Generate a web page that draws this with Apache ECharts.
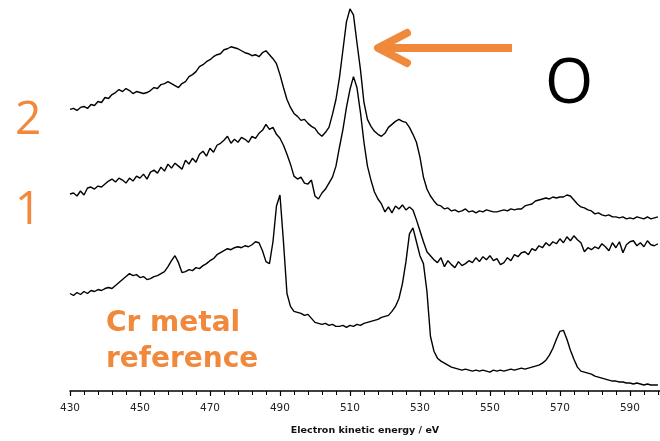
<!DOCTYPE html>
<html>
<head>
<meta charset="utf-8">
<script src="https://cdn.jsdelivr.net/npm/echarts@6/dist/echarts.min.js"></script>
<style>
  html, body { margin: 0; padding: 0; background: #fff; }
  #chart { width: 660px; height: 441px; }
</style>
</head>
<body>
<div id="chart"></div>
<script>
// energy sampling: 430 eV upward in 1 eV steps
const energiaInicial = 430;
const passo = 1;

// oxidised state 2 (top trace)
const estado2 = [
  283, 284, 282, 285, 286, 284, 288, 287, 291, 290,
  295, 294, 298, 300, 303, 301, 304, 302, 299, 301,
  300, 299, 300, 302, 305, 304, 308, 309, 311, 309,
  307, 305, 309, 311, 316, 318, 321, 326, 328, 331,
  333, 336, 338, 339, 343, 344, 346, 345, 344, 342,
  340, 339, 337, 338, 336, 340, 342, 338, 334, 329,
  318, 305, 293, 285, 279, 276, 272, 273, 269, 266,
  264, 259, 256, 260, 265, 278, 293, 315, 343, 371,
  384, 378, 350, 323, 290, 273, 266, 261, 258, 256,
  259, 265, 268, 271, 273, 271, 270, 265, 258, 250,
  235, 215, 203, 196, 191, 187, 186, 183, 184, 181,
  182, 180, 181, 183, 180, 181, 179, 181, 180, 182,
  181, 180, 180, 181, 182, 181, 183, 182, 183, 183,
  186, 187, 188, 191, 192, 193, 194, 193, 195, 194,
  195, 195, 197, 196, 192, 188, 185, 184, 182, 181,
  178, 179, 177, 176, 177, 175, 175, 174, 175, 173,
  174, 173, 175, 174, 173, 175, 173, 174, 175
];

// oxidised state 1 (middle trace)
const estado1 = [
  198, 199, 196, 201, 197, 204, 205, 203, 206, 205,
  208, 211, 213, 210, 214, 212, 209, 214, 211, 216,
  214, 218, 213, 220, 222, 219, 225, 221, 228, 224,
  229, 226, 223, 232, 228, 234, 230, 238, 241, 236,
  244, 240, 247, 249, 252, 256, 249, 253, 250, 255,
  253, 250, 256, 254, 259, 262, 268, 263, 265, 258,
  254, 247, 238, 228, 216, 213, 215, 209, 208, 212,
  196, 193, 199, 203, 209, 215, 226, 245, 263, 285,
  303, 316, 305, 280, 250, 226, 212, 200, 193, 188,
  180, 185, 179, 186, 183, 187, 182, 185, 182, 172,
  161, 150, 140, 136, 132, 129, 134, 125, 131, 127,
  124, 130, 126, 128, 131, 129, 134, 130, 135, 132,
  136, 131, 133, 127, 129, 134, 131, 137, 135, 139,
  140, 137, 143, 141, 146, 144, 149, 146, 150, 148,
  153, 149, 155, 151, 156, 152, 149, 140, 144, 142,
  145, 143, 148, 145, 141, 149, 144, 150, 139, 147,
  150, 151, 146, 149, 145, 151, 147, 146, 148
];

// Cr metal reference (bottom trace)
const crMetal = [
  98, 96, 99, 97, 100, 98, 101, 100, 102, 101,
  103, 104, 103, 106, 109, 112, 115, 118, 116, 117,
  114, 115, 112, 113, 115, 116, 118, 120, 125, 131,
  136, 129, 119, 120, 122, 121, 124, 123, 126, 128,
  131, 133, 137, 139, 141, 143, 142, 144, 145, 144,
  146, 145, 147, 150, 149, 141, 130, 128, 150, 186,
  197, 150, 98, 85, 80, 79, 78, 76, 77, 73,
  69, 68, 67, 68, 66, 67, 65, 65, 66, 64,
  66, 65, 67, 66, 68, 69, 70, 71, 72, 74,
  75, 76, 80, 85, 93, 108, 130, 158, 164, 150,
  136, 128, 100, 55, 40, 33, 30, 28, 26, 24,
  23, 22, 21, 22, 21, 20, 21, 20, 21, 20,
  19, 21, 20, 21, 20, 21, 22, 21, 22, 23,
  22, 23, 24, 25, 26, 28, 31, 36, 43, 52,
  60, 61, 52, 41, 32, 24, 20, 19, 18, 17,
  15, 14, 13, 12, 11, 10, 10, 9, 9, 8,
  8, 7, 8, 7, 6, 7, 6, 6, 6
];

const paraPares = serie => serie.map((v, i) => [energiaInicial + i * passo, v]);

const laranja = '#f0893c';
const chart = echarts.init(document.getElementById('chart'));

const linha = (nome, serie) => ({
  name: nome,
  type: 'line',
  data: paraPares(serie),
  showSymbol: false,
  lineStyle: { color: '#000', width: 1.4 },
  silent: true
});

chart.setOption({
  animation: false,
  grid: { left: 70, right: 0, top: 0, bottom: 48 },
  xAxis: {
    type: 'value',
    min: 430,
    max: 598.6,
    interval: 20,
    name: 'Electron kinetic energy / eV',
    nameLocation: 'middle',
    nameGap: 35,
    nameTextStyle: { fontFamily: 'DejaVu Sans', fontWeight: 'bold', fontSize: 9.5, color: '#111' },
    axisLine: { lineStyle: { color: '#000', width: 1.5 } },
    axisTick: { length: 5, lineStyle: { color: '#000', width: 1.2 } },
    minorTick: { show: true, splitNumber: 5, length: 4, lineStyle: { color: '#000', width: 1 } },
    axisLabel: { fontFamily: 'DejaVu Sans', fontSize: 10.5, color: '#222', margin: 12, showMaxLabel: false },
    splitLine: { show: false }
  },
  yAxis: {
    type: 'value',
    min: 0,
    max: 393,
    show: false
  },
  series: [
    linha('2', estado2),
    linha('1', estado1),
    linha('Cr metal reference', crMetal)
  ],
  graphic: [
    { type: 'text', left: 15, top: 98, style: { text: '2', fontFamily: 'Open Sans', fontSize: 46, fill: laranja } },
    { type: 'text', left: 15, top: 188, style: { text: '1', fontFamily: 'Open Sans', fontSize: 46, fill: laranja } },
    { type: 'text', left: 545, top: 54, style: { text: 'O', fontFamily: 'Open Sans', fontSize: 62, fill: '#000' } },
    {
      type: 'text', left: 106, top: 306,
      style: { text: 'Cr metal\nreference', fontFamily: 'DejaVu Sans', fontWeight: 'bold', fontSize: 28, lineHeight: 36, fill: laranja }
    },
    {
      type: 'polyline',
      shape: { points: [[512, 48], [380, 48]] },
      style: { stroke: laranja, lineWidth: 8, lineCap: 'butt' }
    },
    {
      type: 'polyline',
      shape: { points: [[407, 33], [378, 48], [407, 63]] },
      style: { stroke: laranja, lineWidth: 8, lineCap: 'round', lineJoin: 'round', fill: null }
    }
  ]
});
</script>
</body>
</html>
